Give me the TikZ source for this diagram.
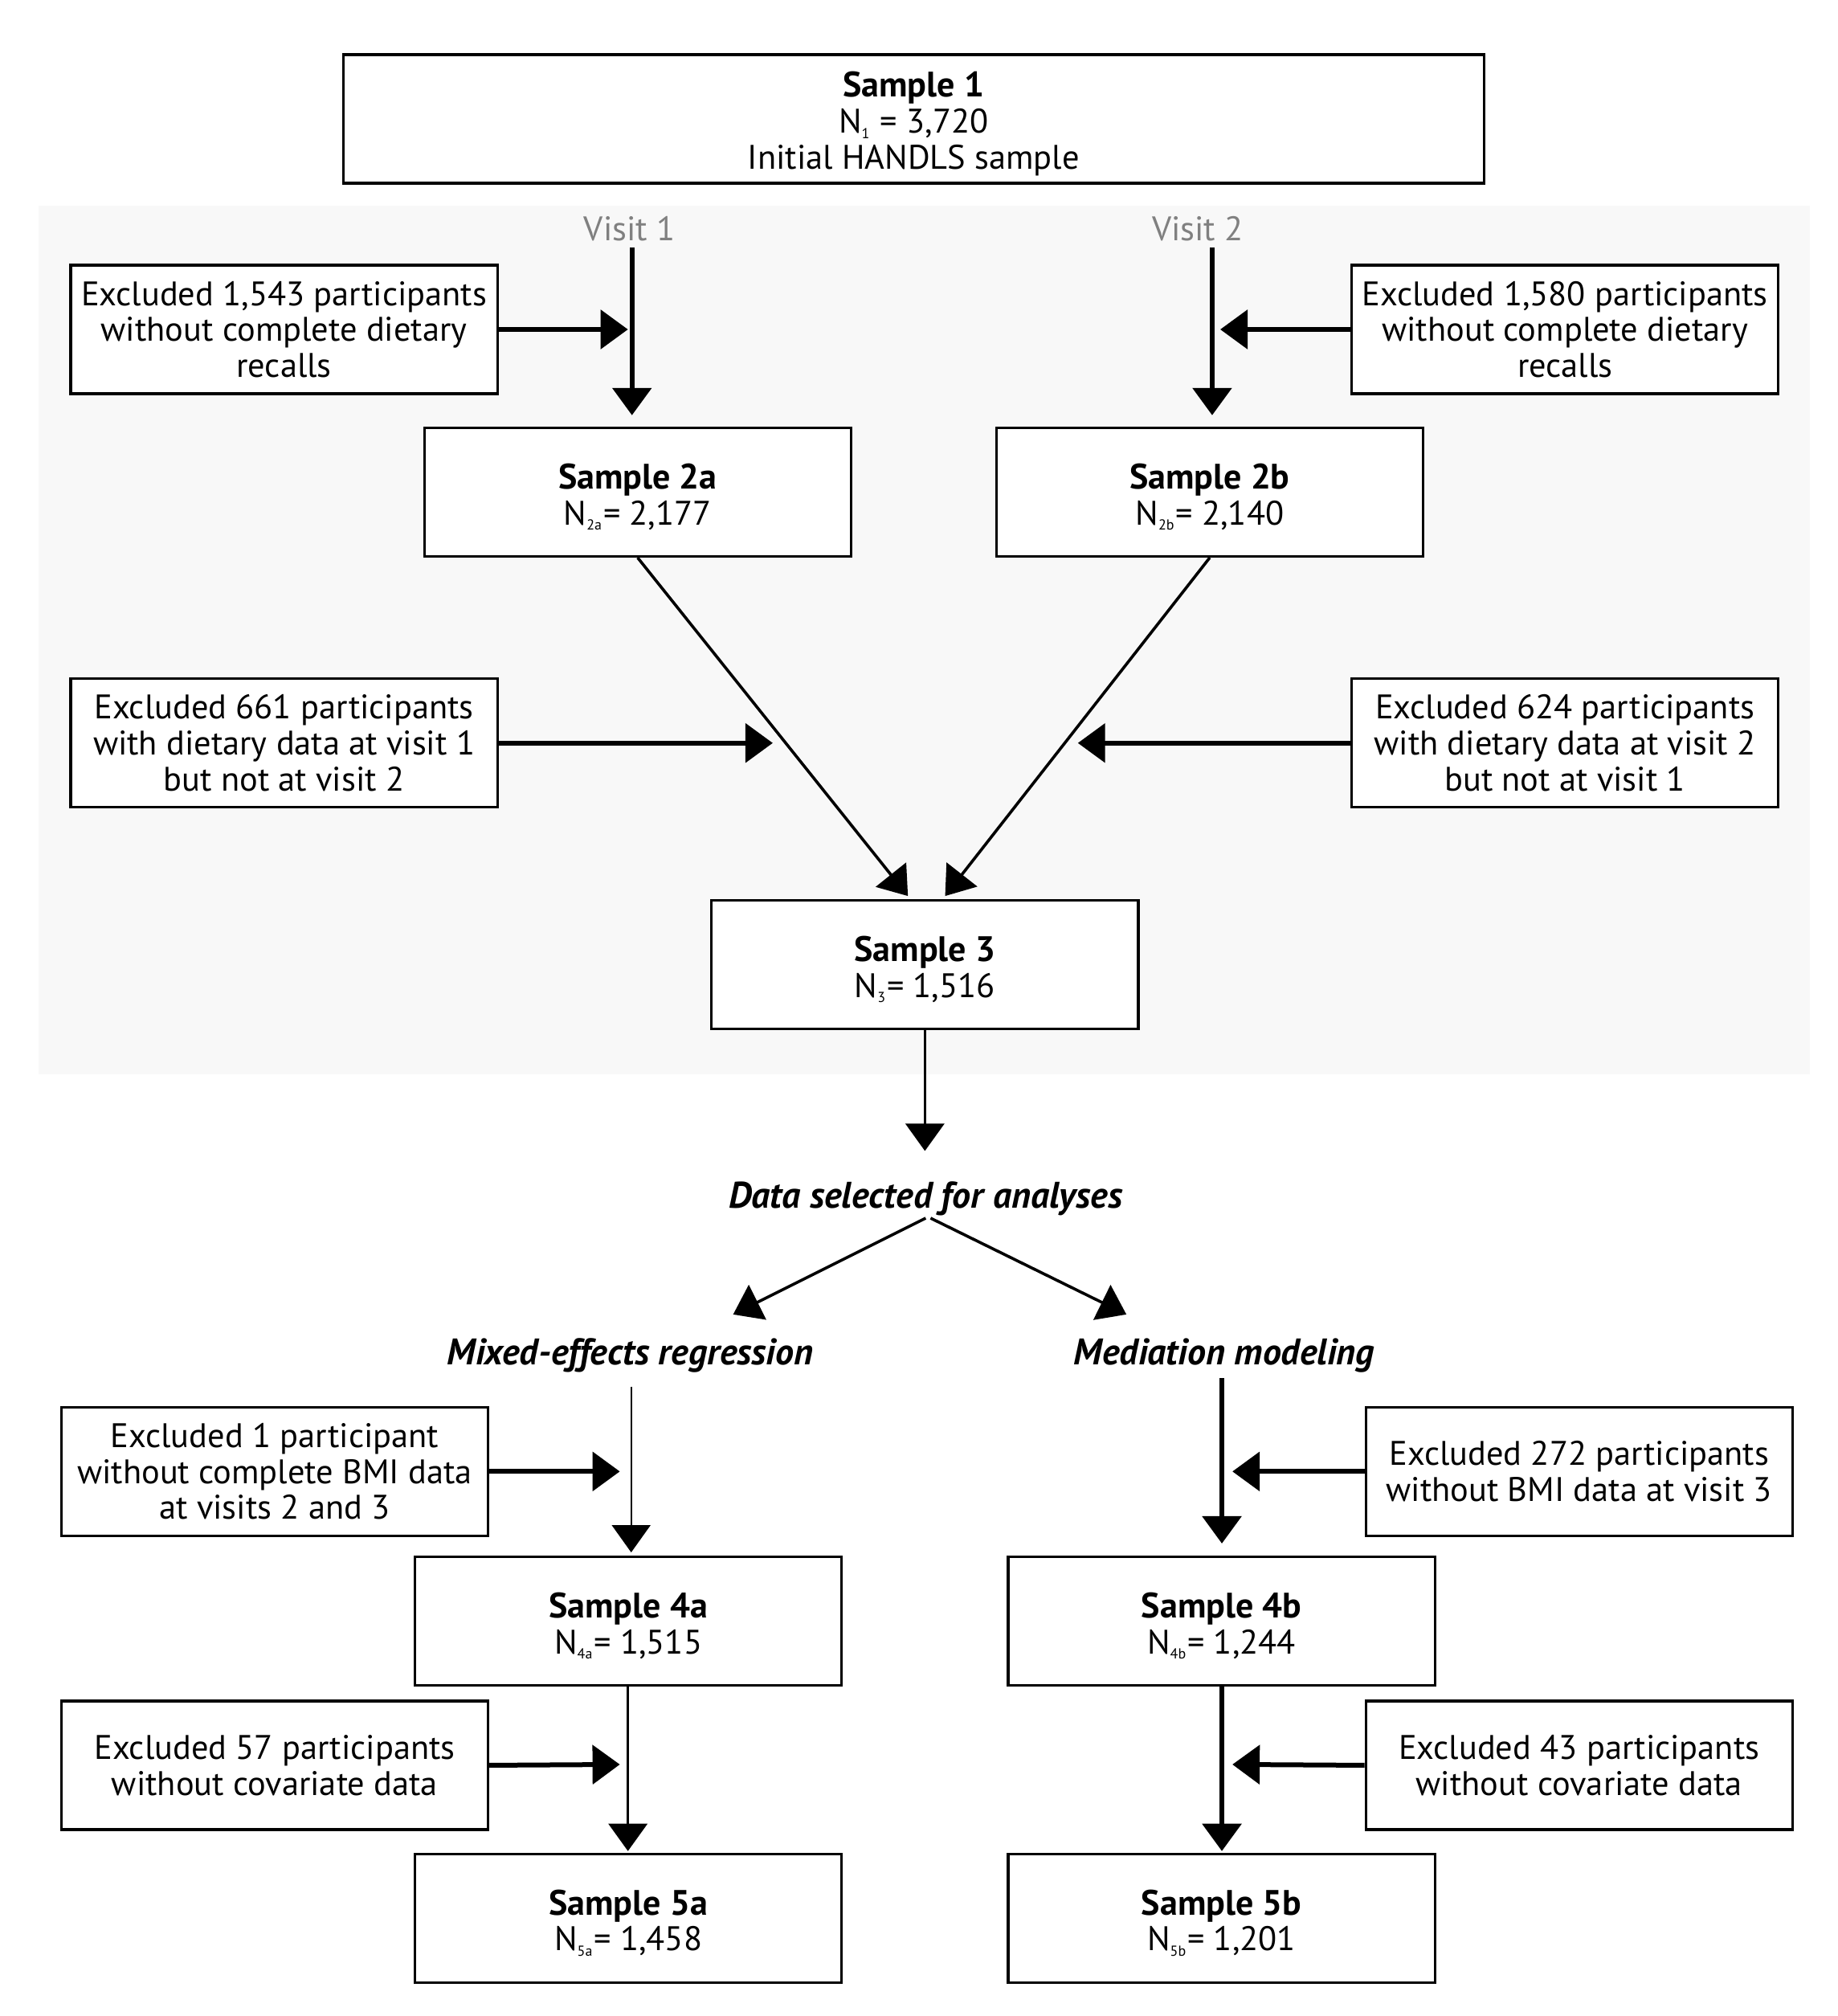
\documentclass[tikz,border=0pt]{standalone}
\usepackage{fontspec}
\setmainfont{PT Sans}
\usetikzlibrary{arrows.meta}
\definecolor{bgray}{HTML}{F8F8F8}
\definecolor{vgray}{HTML}{808080}
\newcommand{\sbs}[1]{\textsubscript{\fontsize{4.5}{4.5}\selectfont #1}}
\newcommand{\ttl}[1]{\rule{0pt}{10.8pt}{\fontsize{11}{11.2}\selectfont\bfseries #1}}
\begin{document}
\begin{tikzpicture}[x=0.25183pt,y=-0.25183pt,
  every node/.style={font=\fontsize{10.6}{11.2}\selectfont},
  box/.style={draw=black,line width=0.8pt,fill=white,align=center,inner sep=0pt,
    minimum width=132.8pt,minimum height=40pt},
  bigbox/.style={box,minimum width=355pt},
  lbl/.style={font=\fontsize{11.5}{11.2}\selectfont\bfseries\itshape},
  vis/.style={text=vgray},
  arr/.style={line width=1.5pt,-{Triangle[length=8.5pt,width=12pt]}},
  darr/.style={line width=0.9pt,-{Triangle[length=8.5pt,width=12pt]}},
  tarr/.style={line width=0.6pt,-{Triangle[length=8.5pt,width=12pt]}}]
\useasboundingbox (0,0) rectangle (2271.4,2490.8);
\fill[bgray] (48,254) rectangle (2237,1327);

\node[bigbox] (s1) at (1129,147) {\ttl{Sample 1}\\N\sbs{1} = 3,720\\Initial HANDLS sample};

\node[vis] (v1) at (778,283) {Visit 1};
\node[vis] (v2) at (1480,283) {Visit 2};

\node[box] (e1) at (351,407) {Excluded 1,543 participants\\without complete dietary\\recalls};
\node[box] (e2) at (1934,407) {Excluded 1,580 participants\\without complete dietary\\recalls};

\node[box] (s2a) at (788,608) {\ttl{Sample 2a}\\N\sbs{2a}= 2,177};
\node[box] (s2b) at (1495,608) {\ttl{Sample 2b}\\N\sbs{2b}= 2,140};

\node[box] (e3) at (351,918) {Excluded 661 participants\\with dietary data at visit 1\\but not at visit 2};
\node[box] (e4) at (1934,918) {Excluded 624 participants\\with dietary data at visit 2\\but not at visit 1};

\node[box] (s3) at (1143,1192) {\ttl{Sample 3}\\N\sbs{3}= 1,516};

\node[lbl] (data) at (1144,1481) {Data selected for analyses};
\node[lbl] (mix) at (779,1675) {Mixed-effects regression};
\node[lbl] (med) at (1513,1675) {Mediation modeling};

\node[box] (e5) at (339.5,1818) {Excluded 1 participant\\without complete BMI data\\at visits 2 and 3};
\node[box] (e6) at (1951.5,1818) {Excluded 272 participants\\without BMI data at visit 3};

\node[box] (s4a) at (776.5,2003) {\ttl{Sample 4a}\\N\sbs{4a}= 1,515};
\node[box] (s4b) at (1509.5,2003) {\ttl{Sample 4b}\\N\sbs{4b}= 1,244};

\node[box] (e7) at (339.5,2181) {Excluded 57 participants\\without covariate data};
\node[box] (e8) at (1951.5,2181) {Excluded 43 participants\\without covariate data};

\node[box] (s5a) at (776.5,2370) {\ttl{Sample 5a}\\N\sbs{5a}= 1,458};
\node[box] (s5b) at (1509.5,2370) {\ttl{Sample 5b}\\N\sbs{5b}= 1,201};

% coordinates
\coordinate (v1s) at (781,306);
\coordinate (v1e) at (781,513);
\coordinate (v2s) at (1498,306);
\coordinate (v2e) at (1498,513);
\coordinate (e1t) at (776,407);
\coordinate (e2t) at (1508,407);
\coordinate (dae) at (1122,1107);
\coordinate (dbe) at (1168,1107);
\coordinate (e3t) at (955,918);
\coordinate (e4t) at (1332,918);
\coordinate (s3e) at (1143,1422);
\coordinate (dl) at (1144,1505);
\coordinate (dr) at (1150,1505);
\coordinate (dle) at (906,1624);
\coordinate (dre) at (1392,1624);
\coordinate (ms) at (780,1713);
\coordinate (me) at (780,1918);
\coordinate (ds) at (1510,1703);
\coordinate (de) at (1510,1907);
\coordinate (e5t) at (766,1818);
\coordinate (e6t) at (1523,1818);
\coordinate (e7t) at (766,2180);
\coordinate (e8t) at (1523,2180);
\coordinate (a4s) at (776,2082);
\coordinate (a5e) at (776,2287);
\coordinate (b4s) at (1510,2082);
\coordinate (b5e) at (1510,2287);

\draw[arr] (v1s) -- (v1e);
\draw[arr] (v2s) -- (v2e);
\draw[arr] (e1.east) -- (e1t);
\draw[arr] (e2.west) -- (e2t);
\draw[darr] (s2a.south) -- (dae);
\draw[darr] (s2b.south) -- (dbe);
\draw[arr] (e3.east) -- (e3t);
\draw[arr] (e4.west) -- (e4t);
\draw[darr] (s3.south) -- (s3e);
\draw[darr] (dl) -- (dle);
\draw[darr] (dr) -- (dre);
\draw[tarr] (ms) -- (me);
\draw[arr] (ds) -- (de);
\draw[arr] (e5.east) -- (e5t);
\draw[arr] (e6.west) -- (e6t);
\draw[darr] (a4s) -- (a5e);
\draw[arr] (b4s) -- (b5e);
\draw[arr] (e7.east) -- (e7t);
\draw[arr] (e8.west) -- (e8t);
\end{tikzpicture}
\end{document}
